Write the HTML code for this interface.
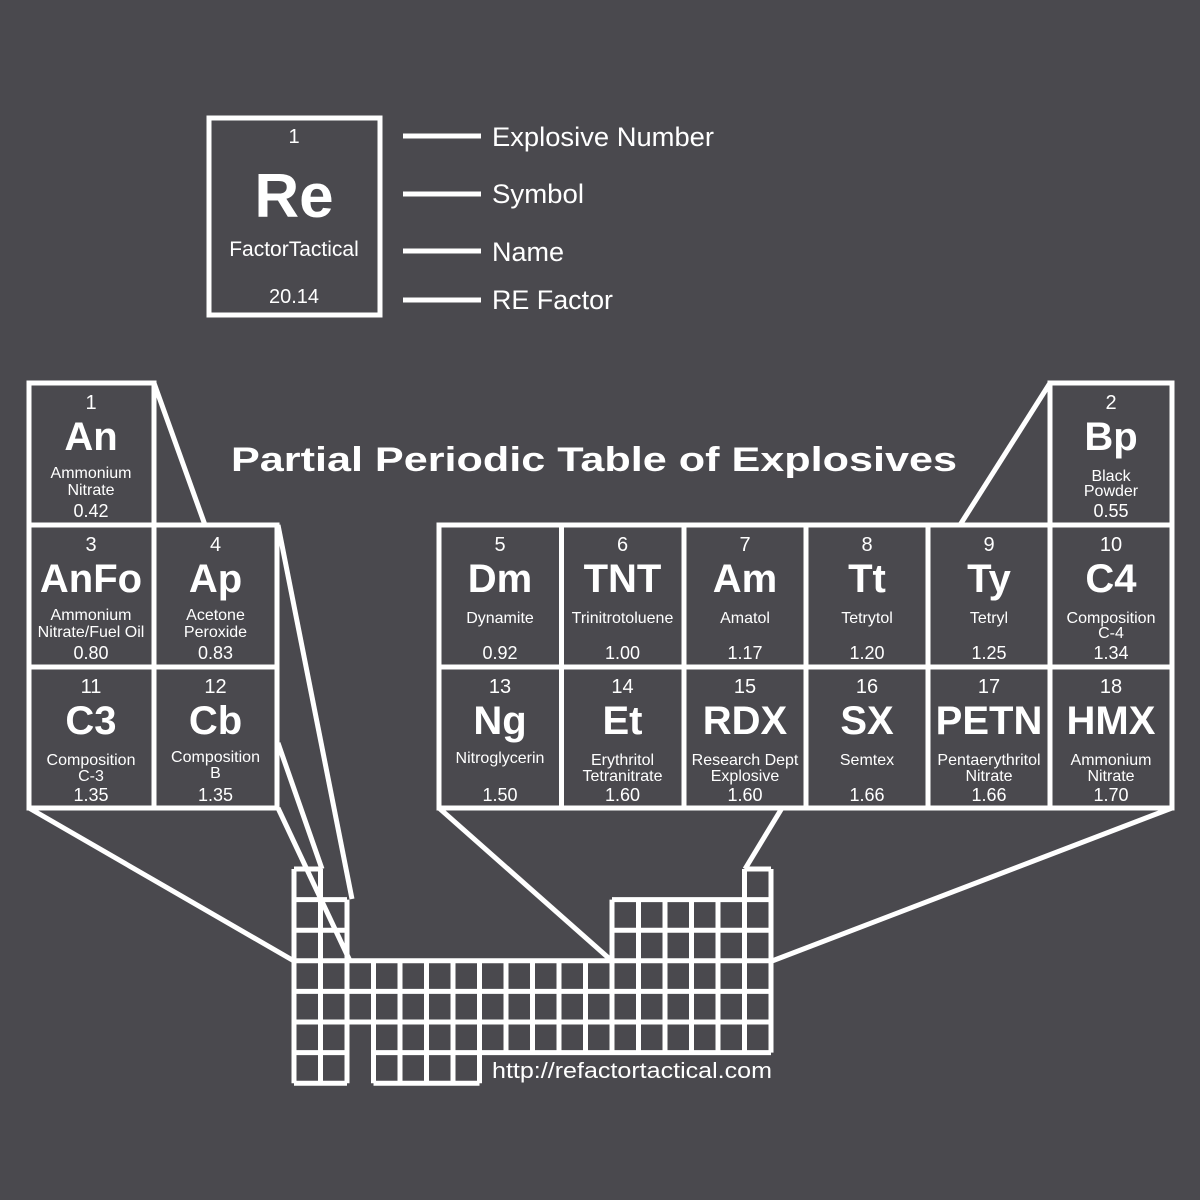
<!DOCTYPE html>
<html><head><meta charset="utf-8"><style>
html,body{margin:0;padding:0;background:#4a494e;}
svg{display:block;}
text{font-family:"Liberation Sans",Arial,sans-serif;fill:#fff;}
</style></head><body>
<svg width="1200" height="1200" viewBox="0 0 1200 1200" xmlns="http://www.w3.org/2000/svg">
<rect width="1200" height="1200" fill="#4a494e"/>
<g stroke="#fff" stroke-width="5" fill="none">
<rect x="209" y="118" width="171" height="197"/>
<line x1="403" y1="136" x2="481" y2="136"/>
<line x1="403" y1="194" x2="481" y2="194"/>
<line x1="403" y1="251" x2="481" y2="251"/>
<line x1="403" y1="300" x2="481" y2="300"/>
<rect x="29" y="383" width="125" height="142"/>
<rect x="29" y="525" width="248" height="283"/>
<line x1="29" y1="667" x2="277" y2="667"/>
<line x1="154" y1="525" x2="154" y2="808"/>
<rect x="1050" y="383" width="122" height="142"/>
<rect x="439" y="525" width="733" height="283"/>
<line x1="439" y1="667" x2="1172" y2="667"/>
<line x1="561.5" y1="525" x2="561.5" y2="808"/>
<line x1="684" y1="525" x2="684" y2="808"/>
<line x1="806" y1="525" x2="806" y2="808"/>
<line x1="928" y1="525" x2="928" y2="808"/>
<line x1="1050" y1="525" x2="1050" y2="808"/>
<line x1="154" y1="383" x2="205" y2="525"/>
<line x1="1050" y1="383" x2="960" y2="525"/>
<line x1="278" y1="525" x2="352" y2="899"/>
<line x1="278" y1="743" x2="322" y2="869"/>
<line x1="278" y1="808" x2="350" y2="961"/>
<line x1="29" y1="808" x2="294" y2="961"/>
<line x1="439" y1="808" x2="612" y2="961"/>
<line x1="782" y1="808" x2="745" y2="869"/>
<line x1="1172" y1="808" x2="772" y2="961"/>
<path d="M294 869H320.5M744.5 869H771
M294 899.6H347M612 899.6H771
M294 930.2H347M612 930.2H771
M294 960.8H771
M294 991.4H771
M294 1022H771
M294 1052.6H347M373.5 1052.6H771
M294 1083.2H347M373.5 1083.2H479.5
M294 869V1083.2M320.5 869V1083.2M347 899.6V1083.2
M373.5 960.8V1083.2M400 960.8V1083.2M426.5 960.8V1083.2M453 960.8V1083.2M479.5 960.8V1083.2
M506 960.8V1052.6M532.5 960.8V1052.6M559 960.8V1052.6M585.5 960.8V1052.6
M612 899.6V1052.6M638.5 899.6V1052.6M665 899.6V1052.6M691.5 899.6V1052.6M718 899.6V1052.6
M744.5 869V1052.6M771 869V1052.6"/>
</g>
<g text-anchor="middle">
<text x="294" y="143" font-size="20">1</text>
<text x="294" y="217" font-size="62" font-weight="bold">Re</text>
<text x="294" y="256" font-size="21">FactorTactical</text>
<text x="294" y="303" font-size="20">20.14</text>
</g>
<g font-size="26.5">
<text x="492" y="146" textLength="222" lengthAdjust="spacingAndGlyphs">Explosive Number</text>
<text x="492" y="203" textLength="92" lengthAdjust="spacingAndGlyphs">Symbol</text>
<text x="492" y="261" textLength="72" lengthAdjust="spacingAndGlyphs">Name</text>
<text x="492" y="309" textLength="121" lengthAdjust="spacingAndGlyphs">RE Factor</text>
</g>
<text x="231" y="471" font-size="34" font-weight="bold" textLength="726" lengthAdjust="spacingAndGlyphs">Partial Periodic Table of Explosives</text>
<text x="492" y="1078" font-size="22" textLength="280" lengthAdjust="spacingAndGlyphs">http://refactortactical.com</text>
<g text-anchor="middle">
<text x="91" y="409" font-size="20">1</text>
<text x="91" y="450" font-size="40" font-weight="bold">An</text>
<text x="91" y="478" font-size="16">Ammonium</text>
<text x="91" y="495" font-size="16">Nitrate</text>
<text x="91" y="517" font-size="18">0.42</text>
<text x="1111" y="409" font-size="20">2</text>
<text x="1111" y="450" font-size="40" font-weight="bold">Bp</text>
<text x="1111" y="481" font-size="16">Black</text>
<text x="1111" y="496" font-size="16">Powder</text>
<text x="1111" y="517" font-size="18">0.55</text>
<text x="91" y="551" font-size="20">3</text>
<text x="91" y="592" font-size="40" font-weight="bold">AnFo</text>
<text x="91" y="620" font-size="16">Ammonium</text>
<text x="91" y="637" font-size="16">Nitrate/Fuel Oil</text>
<text x="91" y="659" font-size="18">0.80</text>
<text x="215.5" y="551" font-size="20">4</text>
<text x="215.5" y="592" font-size="40" font-weight="bold">Ap</text>
<text x="215.5" y="620" font-size="16">Acetone</text>
<text x="215.5" y="637" font-size="16">Peroxide</text>
<text x="215.5" y="659" font-size="18">0.83</text>
<text x="500" y="551" font-size="20">5</text>
<text x="500" y="592" font-size="40" font-weight="bold">Dm</text>
<text x="500" y="623" font-size="16">Dynamite</text>
<text x="500" y="659" font-size="18">0.92</text>
<text x="622.5" y="551" font-size="20">6</text>
<text x="622.5" y="592" font-size="40" font-weight="bold">TNT</text>
<text x="622.5" y="623" font-size="16">Trinitrotoluene</text>
<text x="622.5" y="659" font-size="18">1.00</text>
<text x="745" y="551" font-size="20">7</text>
<text x="745" y="592" font-size="40" font-weight="bold">Am</text>
<text x="745" y="623" font-size="16">Amatol</text>
<text x="745" y="659" font-size="18">1.17</text>
<text x="867" y="551" font-size="20">8</text>
<text x="867" y="592" font-size="40" font-weight="bold">Tt</text>
<text x="867" y="623" font-size="16">Tetrytol</text>
<text x="867" y="659" font-size="18">1.20</text>
<text x="989" y="551" font-size="20">9</text>
<text x="989" y="592" font-size="40" font-weight="bold">Ty</text>
<text x="989" y="623" font-size="16">Tetryl</text>
<text x="989" y="659" font-size="18">1.25</text>
<text x="1111" y="551" font-size="20">10</text>
<text x="1111" y="592" font-size="40" font-weight="bold">C4</text>
<text x="1111" y="623" font-size="16">Composition</text>
<text x="1111" y="638" font-size="16">C-4</text>
<text x="1111" y="659" font-size="18">1.34</text>
<text x="91" y="693" font-size="20">11</text>
<text x="91" y="734" font-size="40" font-weight="bold">C3</text>
<text x="91" y="765" font-size="16">Composition</text>
<text x="91" y="781" font-size="16">C-3</text>
<text x="91" y="801" font-size="18">1.35</text>
<text x="215.5" y="693" font-size="20">12</text>
<text x="215.5" y="734" font-size="40" font-weight="bold">Cb</text>
<text x="215.5" y="762" font-size="16">Composition</text>
<text x="215.5" y="778" font-size="16">B</text>
<text x="215.5" y="801" font-size="18">1.35</text>
<text x="500" y="693" font-size="20">13</text>
<text x="500" y="734" font-size="40" font-weight="bold">Ng</text>
<text x="500" y="763" font-size="16">Nitroglycerin</text>
<text x="500" y="801" font-size="18">1.50</text>
<text x="622.5" y="693" font-size="20">14</text>
<text x="622.5" y="734" font-size="40" font-weight="bold">Et</text>
<text x="622.5" y="765" font-size="16">Erythritol</text>
<text x="622.5" y="781" font-size="16">Tetranitrate</text>
<text x="622.5" y="801" font-size="18">1.60</text>
<text x="745" y="693" font-size="20">15</text>
<text x="745" y="734" font-size="40" font-weight="bold">RDX</text>
<text x="745" y="765" font-size="16">Research Dept</text>
<text x="745" y="781" font-size="16">Explosive</text>
<text x="745" y="801" font-size="18">1.60</text>
<text x="867" y="693" font-size="20">16</text>
<text x="867" y="734" font-size="40" font-weight="bold">SX</text>
<text x="867" y="765" font-size="16">Semtex</text>
<text x="867" y="801" font-size="18">1.66</text>
<text x="989" y="693" font-size="20">17</text>
<text x="989" y="734" font-size="40" font-weight="bold">PETN</text>
<text x="989" y="765" font-size="16">Pentaerythritol</text>
<text x="989" y="781" font-size="16">Nitrate</text>
<text x="989" y="801" font-size="18">1.66</text>
<text x="1111" y="693" font-size="20">18</text>
<text x="1111" y="734" font-size="40" font-weight="bold">HMX</text>
<text x="1111" y="765" font-size="16">Ammonium</text>
<text x="1111" y="781" font-size="16">Nitrate</text>
<text x="1111" y="801" font-size="18">1.70</text>
</g>
</svg>
</body></html>
